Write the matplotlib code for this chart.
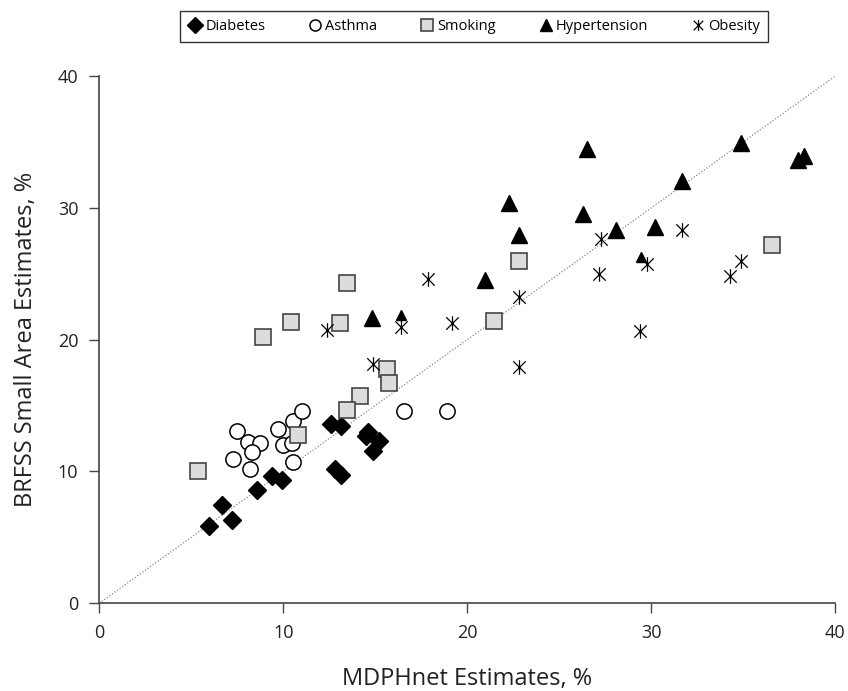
import matplotlib
matplotlib.use("Agg")
import matplotlib.pyplot as plt
from matplotlib.path import Path

plt.rcParams['font.family'] = ['Open Sans', 'DejaVu Sans']

# (x = MDPHnet, y = BRFSS)
diabetes_x = [5.98, 6.68, 7.20, 8.59, 9.40, 9.91, 12.59, 13.12, 12.81, 13.12, 14.48, 14.62, 15.20, 14.89]
diabetes_y = [5.89, 7.46, 6.32, 8.60, 9.68, 9.36, 13.60, 13.47, 10.17, 9.73, 12.69, 13.02, 12.34, 11.56]

asthma_x = [7.50, 7.25, 8.10, 8.73, 8.28, 8.19, 9.70, 9.97, 10.49, 10.51, 11.00, 10.51, 16.56, 18.91]
asthma_y = [13.10, 10.95, 12.22, 12.19, 11.46, 10.17, 13.22, 12.01, 12.14, 13.83, 14.61, 10.70, 14.61, 14.61]

smoking_x = [5.38, 8.88, 10.40, 13.08, 13.48, 15.62, 15.76, 14.18, 13.48, 10.78, 21.47, 22.79, 36.58]
smoking_y = [10.06, 20.18, 21.37, 21.29, 24.32, 17.78, 16.69, 15.75, 14.67, 12.77, 21.40, 25.99, 27.19]

hyper_x = [26.49, 34.88, 37.99, 38.30, 31.68, 22.28, 26.30, 22.79, 28.08, 30.20, 20.98, 14.80]
hyper_y = [34.47, 34.95, 33.62, 33.92, 32.04, 30.35, 29.54, 27.94, 28.32, 28.57, 24.53, 21.62]
# two triangles drawn smaller in the original
hyper_small_x = [16.40, 29.44]
hyper_small_y = [21.88, 26.30]

obesity_x = [19.18, 22.79, 27.27, 31.68, 27.17, 29.78, 34.88, 34.28, 29.39, 22.79, 17.88, 12.39, 16.40, 14.89]
obesity_y = [21.24, 23.26, 27.64, 28.32, 24.96, 25.74, 25.95, 24.86, 20.68, 17.95, 24.63, 20.74, 20.99, 18.16]

ticks = [0, 10, 20, 30, 40]

# asterisk: vertical bar plus an X
star = Path([(0, -1), (0, 1), (-0.85, -0.85), (0.85, 0.85), (-0.85, 0.85), (0.85, -0.85)],
            [Path.MOVETO, Path.LINETO] * 3)

fig = plt.figure(figsize=(8.48, 6.91), dpi=100)
ax = fig.add_axes([0.117, 0.127, 0.868, 0.763])

ax.plot([0, 40], [0, 40], linestyle=(0, (1, 1.5)), color='#888888', linewidth=0.9, zorder=1)

ax.plot(diabetes_x, diabetes_y, 'D', color='black', markersize=9.5, linestyle='none',
        label='Diabetes', zorder=3)
ax.plot(asthma_x, asthma_y, 'o', markerfacecolor='white', markeredgecolor='black',
        markeredgewidth=1.1, markersize=11, linestyle='none', label='Asthma', zorder=3)
ax.plot(smoking_x, smoking_y, 's', markerfacecolor='#dcdcdc', markeredgecolor='#444444',
        markeredgewidth=1.2, markersize=11, linestyle='none', label='Smoking', zorder=3)
ax.plot(hyper_x, hyper_y, '^', color='black', markersize=11, linestyle='none',
        label='Hypertension', zorder=3)
ax.plot(hyper_small_x, hyper_small_y, '^', color='black', markersize=6.5, linestyle='none', zorder=3)
ax.plot(obesity_x, obesity_y, marker=star, color='black', markersize=10.5, markeredgewidth=0.9,
        linestyle='none', label='Obesity', zorder=4)

ax.set_xlim(0, 40)
ax.set_ylim(0, 40)
ax.set_xticks(ticks)
ax.set_yticks(ticks)
for side in ['top', 'right']:
    ax.spines[side].set_visible(False)
for side in ['left', 'bottom']:
    ax.spines[side].set_color('#444444')
    ax.spines[side].set_linewidth(1.2)
ax.tick_params(direction='out', length=7, width=1.0, color='#444444',
               labelsize=13, labelcolor='#222222', pad=8)

ax.set_xlabel('MDPHnet Estimates, %', fontsize=17, color='#222222', labelpad=18)
ax.set_ylabel('BRFSS Small Area Estimates, %', fontsize=17, color='#222222', labelpad=14)

leg = fig.legend(loc='center', bbox_to_anchor=(0.559, 0.962), ncol=5, fontsize=10.5,
                 frameon=True, fancybox=False, edgecolor='black', handletextpad=0.2,
                 columnspacing=2.9, handlelength=1.0, borderpad=0.55)
leg.get_frame().set_linewidth(1.0)
for h in leg.legend_handles:
    h.set_markersize(8)

fig.savefig('out.png', dpi=100)
